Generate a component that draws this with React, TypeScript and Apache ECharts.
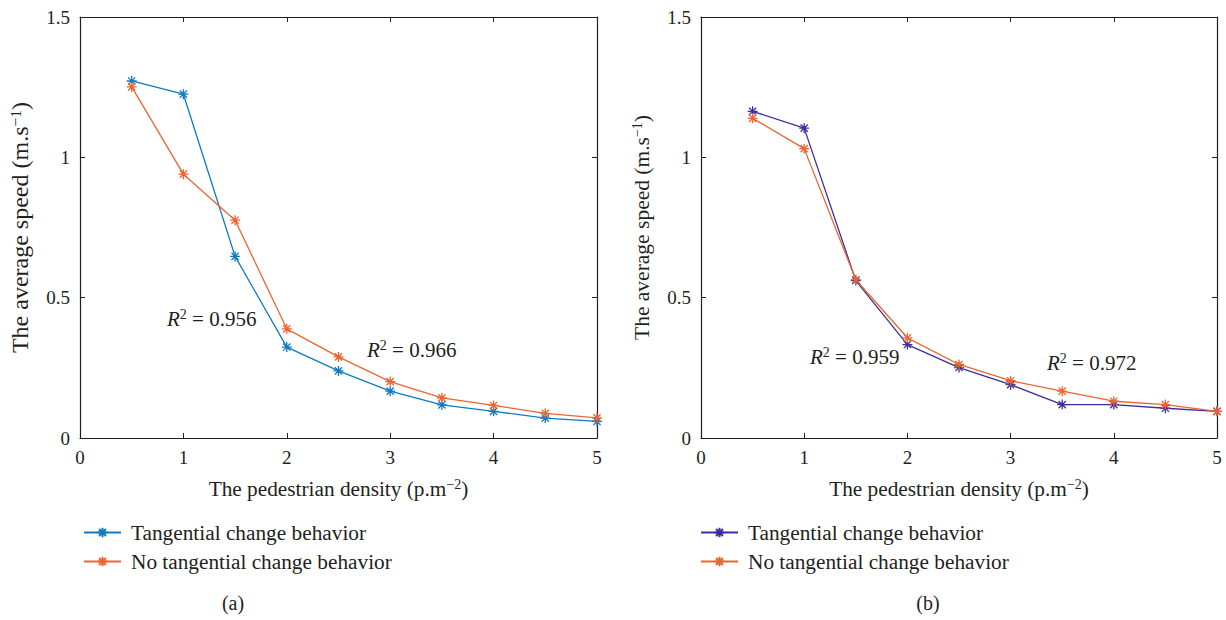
import React, { useEffect, useRef } from "react";
import * as echarts from "echarts";

const densities = [0.5, 1, 1.5, 2, 2.5, 3, 3.5, 4, 4.5, 5];
const aTangential = [1.272, 1.225, 0.647, 0.324, 0.239, 0.167, 0.118, 0.095, 0.071, 0.059];
const aNoTangential = [1.251, 0.94, 0.776, 0.389, 0.289, 0.201, 0.143, 0.116, 0.088, 0.072];
const bTangential = [1.164, 1.104, 0.561, 0.333, 0.251, 0.19, 0.119, 0.119, 0.106, 0.095];
const bNoTangential = [1.139, 1.031, 0.564, 0.357, 0.262, 0.204, 0.167, 0.131, 0.119, 0.095];

const seriesNames = ["Tangential change behavior", "No tangential change behavior"];
const panelLabels = ["(a)", "(b)"];
const r2Labels = [
  ["0.956", "0.966"],
  ["0.959", "0.972"],
];

const FONT = "'Liberation Serif', 'DejaVu Serif', serif";
const TXT = "#231f20";
const BLUE = "#0f7ac4";
const ORANGE = "#ec6430";
const PURPLE = "#3b2f9c";
const STAR = "path://M0 -5 L0 5 M-5 0 L5 0 M-3.6 -3.6 L3.6 3.6 M-3.6 3.6 L3.6 -3.6";

const pairs = (ys: number[]) => densities.map((x, i) => [x, ys[i]]);

export default function App() {
  const ref = useRef<HTMLDivElement>(null);
  useEffect(() => {
    document.body.style.margin = "0";
    const chart = echarts.init(ref.current!, undefined, { renderer: "svg" });
    const grids = [
      { left: 80, top: 17, width: 517, height: 421 },
      { left: 701, top: 17, width: 516, height: 421 },
    ];
    const yTitleSize = [24, 21.5];
    const xAxes: any[] = [];
    const yAxes: any[] = [];
    grids.forEach((_, g) => {
      const common = {
        gridIndex: g,
        axisLine: { onZero: false, lineStyle: { color: TXT, width: 1.2 } },
        axisTick: { inside: true, length: 5, lineStyle: { color: TXT } },
        splitLine: { show: false },
      };
      xAxes.push({
        ...common,
        type: "value",
        position: "bottom",
        min: 0,
        max: 5,
        interval: 1,
        axisLabel: { margin: 10, fontSize: 19, fontFamily: FONT, color: TXT },
        name: "The pedestrian density (p.m{sup|−2})",
        nameLocation: "middle",
        nameGap: 39,
        nameTextStyle: {
          fontSize: 21.3,
          fontFamily: FONT,
          color: TXT,
          rich: { sup: { fontSize: 14, fontFamily: FONT, color: TXT, padding: [0, 0, 9, 0] } },
        },
      });
      xAxes.push({
        ...common,
        type: "value",
        position: "top",
        min: 0,
        max: 5,
        interval: 1,
        axisLabel: { show: false },
      });
      yAxes.push({
        ...common,
        type: "value",
        position: "left",
        min: 0,
        max: 1.5,
        interval: 0.5,
        axisLabel: { margin: 10, fontSize: 19, fontFamily: FONT, color: TXT },
        name: "The average speed (m.s{sup|−1})",
        nameLocation: "middle",
        nameGap: 48,
        nameTextStyle: {
          fontSize: yTitleSize[g],
          fontFamily: FONT,
          color: TXT,
          rich: {
            sup: { fontSize: yTitleSize[g] * 0.65, fontFamily: FONT, color: TXT, padding: [0, 0, 9, 0] },
          },
        },
      });
      yAxes.push({
        ...common,
        type: "value",
        position: "right",
        min: 0,
        max: 1.5,
        interval: 0.5,
        axisLabel: { show: false },
      });
    });

    const mk = (name: string, data: number[], color: string, g: number) => ({
      name,
      type: "line",
      xAxisIndex: g * 2,
      yAxisIndex: g * 2,
      data: pairs(data),
      symbol: STAR,
      symbolSize: 10,
      lineStyle: { color, width: 1.3 },
      itemStyle: { color, borderColor: color, borderWidth: 1.3 },
      emphasis: { disabled: true },
    });

    const panelSeries = [
      [aTangential, aNoTangential, BLUE, ORANGE],
      [bTangential, bNoTangential, PURPLE, ORANGE],
    ] as const;
    const series: any[] = [];
    panelSeries.forEach(([t, n, ct, cn], g) => {
      series.push(mk(`${seriesNames[0]} ${panelLabels[g]}`, t as number[], ct as string, g));
      series.push(mk(`${seriesNames[1]} ${panelLabels[g]}`, n as number[], cn as string, g));
    });

    const legends = [83, 700].map((left, g) => ({
      left,
      top: 522,
      padding: 0,
      orient: "vertical",
      itemWidth: 37,
      itemHeight: 12,
      itemGap: 8,
      selectedMode: false,
      data: seriesNames.map((s) => `${s} ${panelLabels[g]}`),
      formatter: (n: string) => n.replace(/ \([ab]\)$/, ""),
      textStyle: { fontSize: 21.3, fontFamily: FONT, color: TXT, lineHeight: 21, padding: [0, 0, 0, 5] },
    }));

    const r2Pos = [
      [
        [167, 319],
        [367, 350],
      ],
      [
        [810, 357],
        [1047, 363],
      ],
    ];
    const graphic: any[] = [];
    r2Pos.forEach((panel, g) =>
      panel.forEach(([x, y], k) =>
        graphic.push({
          type: "text",
          x,
          y,
          style: {
            text: `{r|R}{s|2}{t| = ${r2Labels[g][k]}}`,
            verticalAlign: "middle",
            rich: {
              r: { fontStyle: "italic", fontSize: 21, fontFamily: FONT, fill: TXT },
              s: { fontSize: 14, fontFamily: FONT, fill: TXT, padding: [0, 0, 10, 0] },
              t: { fontSize: 21, fontFamily: FONT, fill: TXT },
            },
          },
        })
      )
    );
    [233, 928].forEach((x, g) =>
      graphic.push({
        type: "text",
        x,
        y: 603,
        style: {
          text: panelLabels[g],
          fontSize: 20,
          fontFamily: FONT,
          fill: TXT,
          align: "center",
          verticalAlign: "middle",
        },
      })
    );

    chart.setOption({
      animation: false,
      backgroundColor: "#ffffff",
      grid: grids,
      xAxis: xAxes,
      yAxis: yAxes,
      legend: legends,
      series,
      graphic,
    });
    return () => chart.dispose();
  }, []);
  return <div ref={ref} style={{ width: 1226, height: 620 }} />;
}
